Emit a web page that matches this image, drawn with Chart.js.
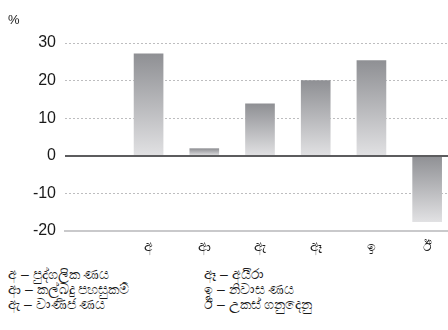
<!DOCTYPE html>
<html>
<head>
<meta charset="utf-8">
<script src="https://cdn.jsdelivr.net/npm/chart.js@4.4.1/dist/chart.umd.min.js"></script>
<style>
  html, body { margin: 0; padding: 0; background: #fff; overflow: hidden; }
  #wrap { position: relative; width: 448px; height: 330px; overflow: hidden; font-family: "Liberation Sans", Arial, sans-serif; color: #1a1a1a; }
  #chartBox { position: absolute; left: 0; top: 0; width: 455px; height: 262px; }
  #unit { position: absolute; left: 8px; top: 12px; font-size: 13px; }
  .legend { position: absolute; top: 267px; font-size: 14px; line-height: 15px; }
  .legend div { white-space: nowrap; }
</style>
</head>
<body>
<div id="wrap">
  <div id="chartBox"><canvas id="chart" width="455" height="262"></canvas></div>
  <div id="unit">%</div>
  <div class="legend" id="legendLeft" style="left:8px"></div>
  <div class="legend" id="legendRight" style="left:204px"></div>
</div>
<script>
// ----------------- datos -----------------
const categories = ["", "අ", "ආ", "ඇ", "ඈ", "ඉ", "ඊ"];
const values = [null, 27.1, 1.9, 13.8, 20.0, 25.3, -17.5];
const yTicks = [30, 20, 10, 0, -10, -20];
const legendLeft = ["අ – පුද්ගලික ණය", "ආ – කල්බදු පහසුකම්", "ඇ – වාණිජ ණය"];
const legendRight = ["ඈ – අයිරා", "ඉ – නිවාස ණය", "ඊ – උකස් ගනුදෙනු"];

// ----------------- leyenda -----------------
function fillLegend(id, items) {
  const el = document.getElementById(id);
  items.forEach((t) => {
    const d = document.createElement("div");
    d.textContent = t;
    el.appendChild(d);
  });
}
fillLegend("legendLeft", legendLeft);
fillLegend("legendRight", legendRight);

// ----------------- relleno degradado -----------------
function barGradient(c) {
  const chart = c.chart;
  const y = chart.scales && chart.scales.y;
  if (!y || c.raw == null) return "#a8a8aa";
  const p0 = y.getPixelForValue(0);
  const p1 = y.getPixelForValue(c.raw);
  const top = Math.min(p0, p1);
  const bot = Math.max(p0, p1);
  if (!isFinite(top) || !isFinite(bot) || bot - top < 1) return "#a0a0a2";
  const g = chart.ctx.createLinearGradient(0, top, 0, bot);
  g.addColorStop(0, "#8f9094");
  g.addColorStop(1, "#e1e1e3");
  return g;
}

// linea del cero, encima de las barras
const zeroLine = {
  id: "zeroLine",
  afterDatasetsDraw(chart) {
    const y = chart.scales.y;
    const a = chart.chartArea;
    const py = Math.round(y.getPixelForValue(0));
    const ctx = chart.ctx;
    ctx.save();
    ctx.strokeStyle = "#5c5c5e";
    ctx.lineWidth = 2;
    ctx.beginPath();
    ctx.moveTo(a.left, py);
    ctx.lineTo(a.right, py);
    ctx.stroke();
    ctx.restore();
  },
};

new Chart(document.getElementById("chart").getContext("2d"), {
  type: "bar",
  data: {
    labels: categories,
    datasets: [
      {
        data: values,
        backgroundColor: barGradient,
        borderWidth: 0,
        barThickness: 29,
      },
    ],
  },
  options: {
    animation: false,
    responsive: false,
    maintainAspectRatio: false,
    layout: { padding: { top: 43, left: 0, right: 0, bottom: 0 } },
    plugins: { legend: { display: false }, tooltip: { enabled: false } },
    scales: {
      x: {
        offset: true,
        grid: { display: false, drawTicks: false },
        border: { display: true, color: "#c9c9cb", width: 2 },
        ticks: {
          color: "#1a1a1a",
          font: { size: 14, family: "'Liberation Sans', Arial, sans-serif" },
          padding: 8,
          maxRotation: 0,
        },
        afterFit: (s) => { s.height = 31; },
      },
      y: {
        min: -20,
        max: 30,
        afterBuildTicks: (s) => { s.ticks = yTicks.map((v) => ({ value: v })); },
        afterFit: (s) => { s.width = 65; },
        grid: {
          drawTicks: false,
          color: (c) => (c.tick && (c.tick.value === 0 || c.tick.value === -20) ? "rgba(0,0,0,0)" : "#bdbdbf"),
          lineWidth: 1,
        },
        border: { display: false, dash: [2, 2] },
        ticks: {
          color: "#1a1a1a",
          font: { size: 16, family: "'Liberation Sans', Arial, sans-serif" },
          padding: 9,
        },
      },
    },
  },
  plugins: [zeroLine],
});
</script>
</body>
</html>
